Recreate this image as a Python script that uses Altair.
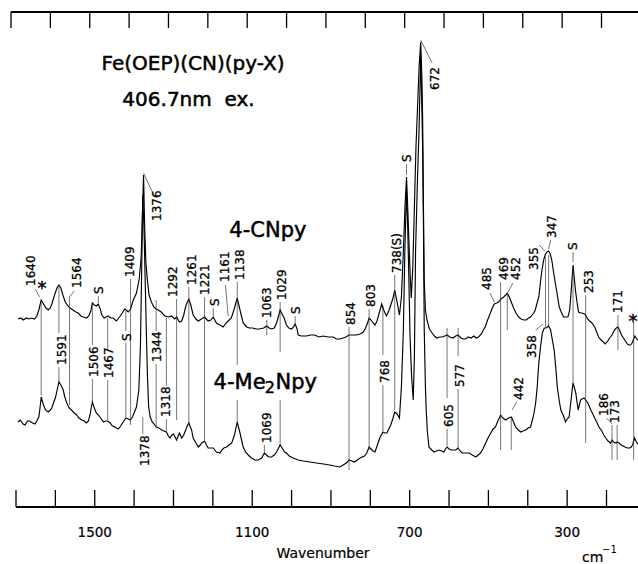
import altair as alt
import pandas as pd

FONT = "DejaVu Sans"

# Upper trace, Fe(OEP)(CN)(4-CNpy): Raman shift (cm-1) and stacked intensity (arb. units)
cn_wn = [1695, 1688, 1681, 1674, 1667, 1660, 1653, 1647, 1642, 1636,
         1630, 1624, 1618, 1613, 1609, 1602, 1596, 1591, 1586, 1580,
         1575, 1568, 1563, 1555, 1548, 1542, 1535, 1529, 1521, 1515,
         1510, 1506, 1501, 1496, 1491, 1486, 1482, 1476, 1471, 1466,
         1460, 1453, 1445, 1437, 1430, 1424, 1420, 1415, 1409, 1402,
         1394, 1387, 1382, 1379, 1376, 1373, 1370, 1366, 1362, 1356,
         1350, 1344, 1339, 1331, 1322, 1313, 1305, 1297, 1292, 1285,
         1279, 1274, 1268, 1261, 1256, 1250, 1243, 1237, 1229, 1221,
         1212, 1205, 1199, 1191, 1182, 1174, 1166, 1161, 1153, 1145,
         1138, 1131, 1123, 1114, 1107, 1099, 1090, 1081, 1071, 1063,
         1057, 1051, 1044, 1038, 1033, 1029, 1024, 1019, 1013, 1007,
         1000, 995, 991, 986, 983, 975, 962, 952, 942, 930,
         920, 907, 894, 886, 877, 869, 862, 854, 845, 835,
         826, 818, 812, 807, 803, 798, 793, 788, 783, 778,
         771, 765, 759, 753, 748, 743, 738, 732, 726, 721,
         716, 712, 708, 705, 702, 699, 696, 692, 688, 684,
         680, 676, 672, 669, 667, 665, 663, 660, 656, 650,
         643, 637, 631, 624, 618, 611, 605, 598, 590, 583,
         577, 570, 564, 558, 551, 544, 537, 531, 525, 518,
         513, 508, 502, 495, 490, 485, 479, 474, 468, 461,
         456, 452, 447, 444, 440, 436, 430, 423, 417, 410,
         404, 398, 393, 389, 385, 381, 377, 372, 368, 364,
         359, 355, 351, 347, 343, 339, 335, 330, 325, 320,
         315, 309, 303, 298, 294, 292, 289, 285, 282, 279,
         275, 271, 266, 262, 256, 253, 248, 243, 237, 230,
         224, 220, 214, 208, 203, 197, 192, 186, 180, 175,
         171, 167, 162, 157, 152, 147, 143, 139, 135, 131,
         128, 123, 118]
cn_int = [188, 189, 187, 189, 188, 189, 188, 191, 197, 207,
          203, 199, 197, 199, 203, 212, 219, 222, 219, 211,
          205, 201, 199, 197, 195, 194, 191, 190, 189, 191,
          196, 204, 202, 201, 203, 198, 192, 189, 190, 191,
          189, 189, 186, 190, 194, 198, 197, 195, 198, 207,
          214, 228, 250, 290, 332, 278, 244, 226, 212, 205,
          200, 198, 197, 195, 191, 190, 191, 188, 190, 185,
          186, 192, 202, 208, 202, 192, 188, 186, 188, 190,
          186, 187, 190, 184, 182, 180, 184, 186, 189, 199,
          209, 197, 184, 180, 179, 179, 178, 178, 179, 181,
          179, 178, 179, 184, 191, 197, 193, 189, 182, 179,
          178, 180, 183, 178, 172, 171, 171, 172, 172, 170,
          171, 170, 170, 168, 168, 169, 170, 172, 172, 172,
          173, 175, 179, 184, 189, 187, 184, 182, 186, 193,
          203, 196, 191, 196, 202, 208, 217, 205, 192, 210,
          255, 300, 330, 300, 267, 235, 209, 240, 300, 360,
          400, 440, 465, 430, 387, 300, 227, 197, 187, 178,
          174, 171, 169, 170, 170, 171, 172, 170, 169, 171,
          172, 169, 168, 168, 170, 169, 171, 169, 170, 173,
          177, 180, 187, 194, 199, 203, 204, 205, 208, 210,
          212, 214, 210, 207, 203, 199, 194, 190, 188, 187,
          187, 189, 190, 192, 194, 197, 203, 210, 224, 237,
          248, 253, 255, 256, 253, 247, 236, 224, 212, 200,
          195, 190, 190, 190, 196, 204, 220, 242, 230, 217,
          205, 195, 194, 194, 193, 192, 188, 186, 184, 180,
          174, 170, 167, 165, 163, 166, 169, 172, 177, 179,
          180, 177, 172, 169, 166, 163, 162, 162, 164, 168,
          171, 168, 166]

# Lower trace, Fe(OEP)(CN)(4-Me2Npy)
me_wn = [1695, 1689, 1682, 1677, 1671, 1665, 1658, 1652, 1647, 1642,
         1639, 1636, 1631, 1625, 1618, 1613, 1609, 1604, 1600, 1595,
         1591, 1586, 1580, 1576, 1571, 1565, 1559, 1552, 1546, 1540,
         1533, 1527, 1521, 1516, 1512, 1509, 1506, 1501, 1496, 1491,
         1485, 1478, 1472, 1467, 1461, 1455, 1449, 1440, 1436, 1431,
         1426, 1421, 1415, 1410, 1404, 1398, 1394, 1388, 1384, 1381,
         1378, 1375, 1372, 1369, 1366, 1363, 1359, 1354, 1349, 1344,
         1337, 1330, 1324, 1318, 1313, 1309, 1304, 1300, 1296, 1292,
         1288, 1285, 1279, 1274, 1269, 1265, 1261, 1257, 1254, 1250,
         1243, 1237, 1232, 1228, 1221, 1216, 1212, 1205, 1199, 1191,
         1182, 1177, 1172, 1165, 1159, 1152, 1145, 1138, 1131, 1123,
         1117, 1110, 1102, 1093, 1085, 1076, 1069, 1064, 1058, 1051,
         1044, 1038, 1033, 1029, 1024, 1018, 1013, 1006, 996, 983,
         970, 954, 937, 919, 903, 891, 877, 865, 858, 854,
         847, 840, 833, 826, 815, 809, 803, 798, 793, 788,
         782, 776, 768, 763, 758, 753, 748, 743, 738, 732,
         726, 721, 716, 712, 708, 705, 702, 699, 695, 691,
         688, 685, 680, 676, 672, 669, 667, 665, 663, 660,
         658, 655, 651, 644, 638, 632, 626, 619, 613, 609,
         605, 600, 594, 588, 583, 577, 572, 567, 562, 556,
         549, 541, 532, 526, 520, 514, 507, 501, 494, 488,
         482, 476, 469, 463, 456, 449, 442, 437, 431, 424,
         418, 412, 405, 399, 393, 389, 385, 380, 376, 372,
         367, 363, 358, 354, 350, 347, 342, 338, 333, 329,
         325, 320, 316, 309, 304, 300, 295, 290, 287, 285,
         282, 278, 275, 272, 269, 266, 262, 257, 253, 249,
         244, 240, 236, 230, 225, 219, 212, 207, 202, 196,
         190, 186, 182, 176, 173, 168, 163, 158, 153, 147,
         141, 137, 133, 129, 124, 118]
me_int = [85, 87, 83, 82, 86, 86, 84, 83, 86, 90,
          99, 110, 103, 97, 95, 97, 99, 105, 109, 118,
          125, 122, 117, 110, 104, 99, 97, 94, 92, 89,
          87, 86, 84, 86, 92, 99, 105, 99, 94, 92,
          89, 85, 86, 86, 84, 81, 80, 78, 80, 83,
          86, 89, 88, 87, 90, 96, 100, 117, 160, 230,
          312, 280, 230, 177, 130, 100, 90, 85, 83, 80,
          79, 77, 76, 75, 71, 69, 72, 73, 70, 67,
          71, 74, 69, 72, 77, 81, 84, 80, 77, 69,
          64, 60, 62, 64, 66, 62, 59, 59, 59, 55,
          54, 57, 59, 60, 62, 64, 72, 85, 74, 60,
          55, 52, 49, 47, 47, 49, 54, 52, 50, 50,
          52, 55, 59, 62, 59, 55, 54, 51, 49, 47,
          46, 45, 44, 43, 42, 41, 40, 43, 45, 47,
          46, 45, 47, 49, 51, 54, 60, 58, 56, 55,
          62, 69, 75, 74, 74, 78, 82, 88, 95, 93,
          89, 120, 177, 260, 317, 280, 227, 170, 130, 107,
          150, 257, 330, 380, 452, 400, 357, 280, 177, 120,
          97, 75, 60, 57, 55, 56, 57, 56, 55, 58,
          60, 58, 57, 57, 57, 59, 56, 54, 54, 54,
          54, 52, 50, 52, 54, 58, 64, 69, 74, 78,
          80, 86, 92, 89, 87, 89, 90, 86, 80, 77,
          75, 76, 77, 79, 80, 86, 92, 104, 120, 144,
          162, 174, 179, 179, 180, 181, 177, 168, 157, 140,
          120, 106, 97, 91, 85, 88, 90, 107, 118, 124,
          120, 114, 105, 97, 102, 107, 108, 109, 107, 105,
          101, 97, 94, 89, 85, 80, 76, 72, 69, 66,
          64, 67, 65, 64, 65, 64, 62, 61, 60, 59,
          59, 60, 63, 69, 65, 62]

# Band assignments (rotated text, anchored at the lower end of the text)
band_text = ["1640", "1564", "S", "1409", "1376", "1292", "1261", "1221", "S", "1161",
             "1138", "1063", "1029", "S", "854", "803", "738(S)", "S", "672", "485",
             "469", "452", "355", "347", "S", "253", "171",
             "1591", "1506", "1467", "S", "1344", "1318", "1378", "1069", "768",
             "605", "577", "442", "358", "186", "173"]
band_wn = [1662, 1546, 1488, 1411, 1343, 1300, 1254, 1220, 1195, 1169,
           1131, 1063, 1025, 989, 850, 799, 733, 708, 636, 504,
           461, 430, 385, 339, 284, 245, 171,
           1584, 1502, 1463, 1419, 1341, 1320, 1373, 1063, 763,
           600, 571, 422, 389, 207, 179]
band_int = [221, 219, 213, 230, 286, 210, 222, 212, 201, 225,
            227, 189, 207, 193, 182, 200, 234, 345, 417, 217,
            227, 227, 237, 269, 257, 214, 194,
            142, 130, 129, 166, 145, 90, 41, 64, 124,
            80, 120, 107, 149, 91, 84]

# Guide and leader lines: (wn start, intensity start, wn end, intensity end)
guides = [
    (1651, 218, 1640, 210), (1636, 204, 1636, 112), (1552, 216, 1562, 211),
    (1564, 211, 1564, 102), (1491, 211, 1491, 204), (1409, 228, 1409, 82),
    (1376, 334, 1349, 311), (1292, 208, 1292, 87), (1261, 220, 1261, 82),
    (1221, 210, 1221, 67), (1199, 199, 1199, 191), (1168, 222, 1161, 191),
    (1138, 225, 1138, 142), (1138, 107, 1138, 85), (1063, 187, 1063, 172),
    (1029, 205, 1029, 155), (1029, 107, 1029, 62), (991, 191, 991, 184),
    (854, 180, 854, 37), (803, 198, 803, 57), (738, 232, 738, 97),
    (708, 343, 708, 332), (672, 467, 643, 444), (496, 214, 485, 205),
    (469, 225, 469, 57), (438, 224, 450, 215), (452, 215, 452, 177),
    (371, 262, 357, 256), (342, 267, 347, 258), (355, 250, 355, 180),
    (347, 252, 347, 182), (285, 255, 285, 245), (285, 239, 285, 124),
    (253, 212, 253, 64), (171, 192, 171, 157), (131, 185, 131, 47),
    (1591, 220, 1591, 174), (1591, 140, 1591, 125), (1506, 204, 1506, 162),
    (1506, 128, 1506, 106), (1467, 189, 1467, 157), (1467, 127, 1467, 87),
    (1421, 196, 1421, 176), (1421, 164, 1421, 90), (1344, 207, 1344, 176),
    (1344, 143, 1344, 80), (1318, 189, 1318, 121), (1318, 88, 1318, 76),
    (1378, 90, 1378, 73), (1069, 62, 1069, 55), (768, 201, 768, 152),
    (768, 122, 768, 76), (605, 179, 605, 109), (605, 78, 605, 61),
    (577, 179, 577, 151), (577, 118, 577, 59), (428, 105, 440, 97),
    (442, 89, 442, 57), (380, 177, 361, 183), (200, 89, 186, 83),
    (186, 82, 186, 47), (173, 82, 173, 47),
]

# Plasma-line / artefact markers
star_wn = [1634, 133]
star_int = [213, 180]

# Trace names ("4-Me2Npy" is set in pieces for the subscript)
name_text = ["4-CNpy", "4-Me", "2", "Npy"]
name_wn = [1158, 1198, 1068, 1041]
name_int = [270, 118, 113.7, 118]
name_size = [21, 21, 16, 21]

tick_wn = [1700, 1600, 1500, 1400, 1300, 1200, 1100, 1000, 900, 800, 700, 600, 500, 400, 300, 200]
tick_label_wn = [1500, 1100, 700, 300]

W, H = 622, 495

spec = pd.concat([
    pd.DataFrame({"wn": cn_wn, "v": cn_int, "trace": "4-CNpy", "k": range(len(cn_wn))}),
    pd.DataFrame({"wn": me_wn, "v": me_int, "trace": "4-Me2Npy", "k": range(len(me_wn))}),
])
bands = pd.DataFrame({"t": band_text, "wn": band_wn, "v": band_int})
guide_df = pd.DataFrame(guides, columns=["w1", "v1", "w2", "v2"])
stars = pd.DataFrame({"wn": star_wn, "v": star_int})
names = pd.DataFrame({"t": name_text, "wn": name_wn, "v": name_int, "fs": name_size})
ticks = pd.DataFrame({"t": tick_wn})
tick_labels = pd.DataFrame({"t": tick_label_wn, "lab": [str(v) for v in tick_label_wn]})
one = pd.DataFrame({"n": [0]})  # single row for free-standing annotations

xs = alt.Scale(domain=[1700, 120], nice=False, zero=False)
ys = alt.Scale(domain=[0, 495], nice=False, zero=False)

traces = alt.Chart(spec).mark_line(color="black", strokeWidth=1.15, clip=True).encode(
    x=alt.X("wn:Q", scale=xs, axis=None),
    y=alt.Y("v:Q", scale=ys, axis=None),
    detail="trace:N",
    order="k:Q",
)

guide_lines = alt.Chart(guide_df).mark_rule(color="#3a3a3a", strokeWidth=0.7).encode(
    x="w1:Q", x2="w2:Q", y="v1:Q", y2="v2:Q"
)

band_labels = alt.Chart(bands).mark_text(
    angle=270, align="left", baseline="middle", font=FONT, fontSize=12,
    color="black", stroke="black", strokeWidth=0.3,
).encode(x="wn:Q", y="v:Q", text="t:N")

star_marks = alt.Chart(stars).mark_text(
    text="*", font=FONT, fontSize=18, align="center", baseline="alphabetic",
    color="black", stroke="black", strokeWidth=0.4,
).encode(x="wn:Q", y="v:Q")

trace_names = alt.Chart(names).mark_text(
    align="left", baseline="alphabetic", font=FONT, color="black",
    stroke="black", strokeWidth=0.5,
).encode(x="wn:Q", y="v:Q", text="t:N", size=alt.Size("fs:Q", scale=None, legend=None))

# frame: top scale (ticks point down) and bottom scale (ticks point up)
top_line = alt.Chart(one).mark_rule(color="black", strokeWidth=1.8).encode(
    x=alt.value(-5), x2=alt.value(W), y=alt.value(0)
)
bottom_line = alt.Chart(one).mark_rule(color="black", strokeWidth=1.8).encode(
    x=alt.value(0), x2=alt.value(W), y=alt.value(H)
)
top_ticks = alt.Chart(ticks).mark_rule(color="black", strokeWidth=1.3, xOffset=-5).encode(
    x="t:Q", y=alt.value(0), y2=alt.value(16)
)
bottom_ticks = alt.Chart(ticks).mark_rule(color="black", strokeWidth=1.3).encode(
    x="t:Q", y=alt.value(H - 17), y2=alt.value(H)
)
tick_text = alt.Chart(tick_labels).mark_text(
    font=FONT, fontSize=13.5, baseline="alphabetic", align="center", color="black",
    stroke="black", strokeWidth=0.2,
).encode(x="t:Q", y=alt.value(525), text="lab:N")

x_title = alt.Chart(one).mark_text(
    text="Wavenumber", font=FONT, fontSize=14, align="center", baseline="alphabetic",
    color="black", stroke="black", strokeWidth=0.2,
).encode(x=alt.value(307), y=alt.value(546))
unit_cm = alt.Chart(one).mark_text(
    text="cm", font=FONT, fontSize=14, align="left", baseline="alphabetic",
    color="black", stroke="black", strokeWidth=0.2,
).encode(x=alt.value(566), y=alt.value(550))
unit_exp = alt.Chart(one).mark_text(
    text="\u22121", font=FONT, fontSize=10, align="left", baseline="alphabetic", color="black"
).encode(x=alt.value(586), y=alt.value(541))

title1 = alt.Chart(one).mark_text(
    text="Fe(OEP)(CN)(py-X)", font=FONT, fontSize=20, align="center", baseline="alphabetic",
    color="black", stroke="black", strokeWidth=0.5,
).encode(x=alt.value(177), y=alt.value(58))
title2 = alt.Chart(one).mark_text(
    text="406.7nm\u00a0\u00a0ex.", font=FONT, fontSize=20, align="center", baseline="alphabetic",
    color="black", stroke="black", strokeWidth=0.5,
).encode(x=alt.value(172.5), y=alt.value(93.5))

chart = alt.layer(
    traces, guide_lines, band_labels, star_marks, trace_names,
    top_line, bottom_line, top_ticks, bottom_ticks, tick_text,
    x_title, unit_cm, unit_exp, title1, title2,
).properties(
    width=W, height=H,
    autosize=alt.AutoSizeParams(type="none"),
    padding={"left": 16, "top": 12, "right": 0, "bottom": 57},
    background="white",
).configure_view(stroke=None)

chart.save("out.html", embed_options={"renderer": "svg", "actions": False})
